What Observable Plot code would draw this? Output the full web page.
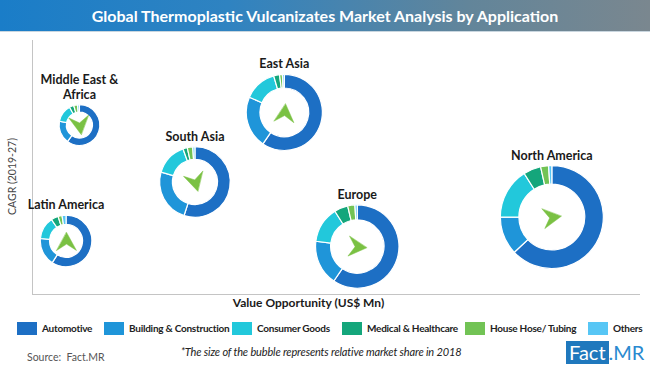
<!DOCTYPE html>
<html>
<head>
<meta charset="utf-8">
<script src="https://cdn.jsdelivr.net/npm/d3@7"></script>
<script src="https://cdn.jsdelivr.net/npm/@observablehq/plot@0.6"></script>
<style>
  body { margin: 0; background: #fff; font-family: Lato, "Open Sans", sans-serif; }
  #wrap { position: relative; width: 650px; height: 375px; overflow: hidden; background: #fff; }
  #title { position: absolute; left: 0; top: 0; width: 650px; height: 31px;
    background: linear-gradient(to right, #1a7dc8 0%, #2f83c1 35%, #62859a 72%, #7a878f 100%);
    border-bottom: 1px solid #c9d6df;
    color: #fff; font-weight: 700; font-size: 16px; line-height: 31px; text-align: center; }
  #chart { position: absolute; left: 0; top: 33px; }
  .sw { position: absolute; top: 322px; width: 20px; height: 13px; }
  .lt { position: absolute; top: 321px; font-size: 10px; font-weight: 700; color: #222; letter-spacing: -0.25px; white-space: nowrap; line-height: 15px; }
  #source { position: absolute; left: 27px; top: 351px; font-size: 10.5px; color: #555; }
  #note { position: absolute; left: 0; width: 642px; text-align: center; top: 345px; font-size: 11px; font-style: italic; color: #222; letter-spacing: -0.15px; }
  #logo { position: absolute; left: 566px; top: 341px; height: 23px; font-size: 20px; line-height: 23px; white-space: nowrap; }
  #logo .f { background: #1f78bd; color: #fff; padding: 0 3px; display: inline-block; height: 23px; }
  #logo .m { color: #2a8ad0; }
</style>
</head>
<body>
<div id="wrap">
  <div id="title">Global Thermoplastic Vulcanizates Market Analysis by Application</div>
  <div id="chart"></div>
  <div id="legend"></div>
  <div id="source">Source:&nbsp; Fact.MR</div>
  <div id="note">*The size of the bubble represents relative market share in 2018</div>
  <div id="logo"><span class="f">Fact</span><span class="m">.MR</span></div>
</div>
<script>
// ---- data ----
const regions = ["Middle East &\nAfrica", "East Asia", "South Asia", "Latin America", "Europe", "North America"];
const valueOpportunity = [7.8, 41.5, 26.8, 5.6, 53.5, 85.5];   // relative, x
const cagr = [66.5, 71.5, 44.1, 20.9, 18.7, 30.3];              // relative, y
const marketShare = [5, 17.5, 15, 8, 21, 32];                   // bubble size, 2018
const trendDirection = [172, 5, 165, 0, 95, 82];                // arrow heading, degrees

const applications = ["Automotive", "Building & Construction", "Consumer Goods", "Medical & Healthcare", "House Hose/ Tubing", "Others"];
const automotive = [60, 59.5, 55, 59, 59.5, 63];
const buildingConstruction = [18, 22, 24.5, 17.5, 17.5, 12];
const consumerGoods = [14, 14, 15, 14, 14, 16];
const medicalHealthcare = [3.5, 2.5, 2, 4.5, 5.3, 5.5];
const houseHoseTubing = [3, 1.2, 2.5, 2.5, 2.8, 2.5];
const others = [1.5, 0.8, 1, 2.5, 0.9, 1];
const appColors = ["#1d6fc4", "#1f95d9", "#22c8db", "#14a67b", "#72c355", "#57c6f5"];

const series = [automotive, buildingConstruction, consumerGoods, medicalHealthcare, houseHoseTubing, others];
const table = regions.map((name, i) => ({
  name, value: valueOpportunity[i], cagr: cagr[i], share: marketShare[i], trend: trendDirection[i]
}));

// ---- donut renderer (uses Plot's scaled x, y, r) ----
function donuts(index, scales, values) {
  const g = d3.create("svg:g");
  const pie = d3.pie().sort(null).value(d => d);
  for (const i of index) {
    const cx = values.x[i], cy = values.y[i], R = values.r[i];
    const arc = d3.arc().outerRadius(R).innerRadius(R * 0.64);
    const gi = g.append("g").attr("transform", `translate(${cx},${cy})`);
    gi.selectAll("path")
      .data(pie(series.map(s => s[i])))
      .join("path")
      .attr("d", arc)
      .attr("fill", (d, k) => appColors[k])
      .attr("stroke", "#fff")
      .attr("stroke-width", 1.2);
    const lines = table[i].name.split("\n");
    const t = gi.append("text")
      .attr("text-anchor", "middle")
      .attr("font-weight", 700)
      .attr("font-size", 12.5)
      .attr("fill", "#1a1a1a");
    lines.forEach((ln, k) => {
      t.append("tspan").attr("x", 0)
        .attr("y", -R - 6 - (lines.length - 1 - k) * 15)
        .text(ln);
    });
  }
  return g.node();
}

const navArrow = {
  draw(context, l) {
    const w = l * 0.55;
    context.moveTo(0, -l);
    context.lineTo(w, 0);
    context.lineTo(0, -l * 0.35);
    context.lineTo(-w, 0);
    context.closePath();
  }
};

const chart = Plot.plot({
  width: 650,
  height: 280,
  marginLeft: 32,
  marginRight: 10,
  marginTop: 7,
  marginBottom: 19,
  x: {domain: [0, 100], axis: null},
  y: {domain: [0, 100], axis: null},
  r: {type: "sqrt", domain: [0, 32], range: [0, 51.5]},
  style: {fontFamily: "Lato, 'Open Sans', sans-serif", background: "transparent", color: "#222"},
  marks: [
    Plot.ruleX([0], {stroke: "#c4c4c4", strokeWidth: 1}),
    Plot.ruleY([0], {stroke: "#c4c4c4", strokeWidth: 1}),
    Plot.dot(table, {x: "value", y: "cagr", r: "share", render: donuts}),
    Plot.vector(table, {x: "value", y: "cagr", rotate: "trend", length: 18, anchor: "middle",
      shape: navArrow, fill: "#7ac143", stroke: "#7ac143", strokeWidth: 0.5}),
    Plot.text(["CAGR (2019-27)"], {frameAnchor: "left", textAnchor: "middle", lineAnchor: "middle",
      rotate: -90, dx: -20, dy: 9, fontSize: 10.5, fill: "#444"}),
    Plot.text(["Value Opportunity (US$ Mn)"], {frameAnchor: "bottom", lineAnchor: "middle",
      dy: 9, dx: -28, fontSize: 12, fontWeight: 700, fill: "#1a1a1a"})
  ]
});
document.getElementById("chart").appendChild(chart);

// ---- legend ----
const swatchX = [17, 104, 232, 342, 465, 588];
const legend = document.getElementById("legend");
applications.forEach((a, k) => {
  const sw = document.createElement("div");
  sw.className = "sw";
  sw.style.left = swatchX[k] + "px";
  sw.style.background = appColors[k];
  legend.appendChild(sw);
  const lt = document.createElement("div");
  lt.className = "lt";
  lt.style.left = (swatchX[k] + 25) + "px";
  lt.textContent = a;
  legend.appendChild(lt);
});
</script>
</body>
</html>
